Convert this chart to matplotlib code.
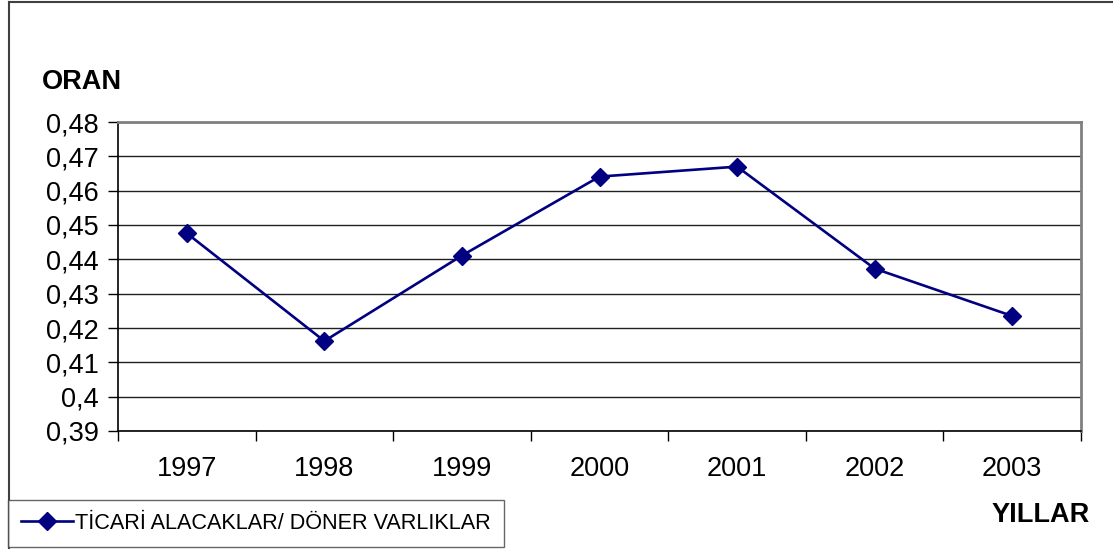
import matplotlib as mpl
import matplotlib.pyplot as plt
from matplotlib.lines import Line2D

mpl.rcParams.update({
    "font.family": ["Liberation Sans", "DejaVu Sans"],
    "font.size": 19.5,
})

# Data
years = ["1997", "1998", "1999", "2000", "2001", "2002", "2003"]
ratio = [0.4476, 0.4162, 0.4411, 0.4641, 0.4670, 0.4373, 0.4235]
yticks = [0.39, 0.40, 0.41, 0.42, 0.43, 0.44, 0.45, 0.46, 0.47, 0.48]
series_name = "TİCARİ ALACAKLAR/ DÖNER VARLIKLAR"

W, H = 1113, 549
fig = plt.figure(figsize=(W / 100, H / 100), dpi=100)
ax = fig.add_axes([118 / W, 1 - 431 / H, (1081 - 118) / W, (431 - 122) / H])

x = list(range(len(years)))
line, = ax.plot(x, ratio, color="#000080", lw=1.9, marker="D", ms=9,
                mfc="#000080", mec="#000080", zorder=3)

ax.set_xlim(-0.5, len(years) - 0.5)
ax.set_ylim(0.39, 0.48)

# y axis with comma decimals
ax.set_yticks(yticks)
ax.set_yticklabels([f"{v:.2f}".rstrip("0").replace(".", ",") for v in yticks],
                   fontsize=19.5)
ax.yaxis.grid(True, color="#202020", lw=1.0)
ax.set_axisbelow(True)

# x axis: labels centred on categories, ticks between them
ax.set_xticks(x)
ax.set_xticklabels(years, fontsize=19.5)
ax.set_xticks([i - 0.5 for i in range(len(years) + 1)], minor=True)
ax.tick_params(axis="x", which="major", length=0, pad=18)
ax.tick_params(axis="x", which="minor", length=7, width=1, direction="out")
ax.tick_params(axis="y", length=7, width=1, direction="out", pad=7)

for s in ["left", "bottom"]:
    ax.spines[s].set_color("black")
    ax.spines[s].set_linewidth(1.2)
for s in ["top", "right"]:
    ax.spines[s].set_color("#808080")
    ax.spines[s].set_linewidth(2.0)

fig.text(42 / W, 1 - 82 / H, "ORAN", fontsize=19.5, fontweight="bold",
         ha="left", va="center")
fig.text(1090 / W, 1 - 515 / H, "YILLAR", fontsize=19.5, fontweight="bold",
         ha="right", va="center")

# outer chart border (left and top)
fig.add_artist(Line2D([8.5 / W, 8.5 / W], [0, 1 - 1.5 / H],
                      transform=fig.transFigure, color="#404040", lw=1.5))
fig.add_artist(Line2D([8.5 / W, 1], [1 - 1.5 / H, 1 - 1.5 / H],
                      transform=fig.transFigure, color="#404040", lw=1.5))

leg = fig.legend([line], [series_name], loc="lower left",
                 bbox_to_anchor=(8 / W, 2 / H), frameon=True, fancybox=False,
                 fontsize=15.6, handlelength=2.4, handletextpad=0.1,
                 borderpad=0.6, borderaxespad=0)
leg.get_frame().set_edgecolor("#404040")
leg.get_frame().set_linewidth(1.0)

fig.savefig("out.png", dpi=100)
